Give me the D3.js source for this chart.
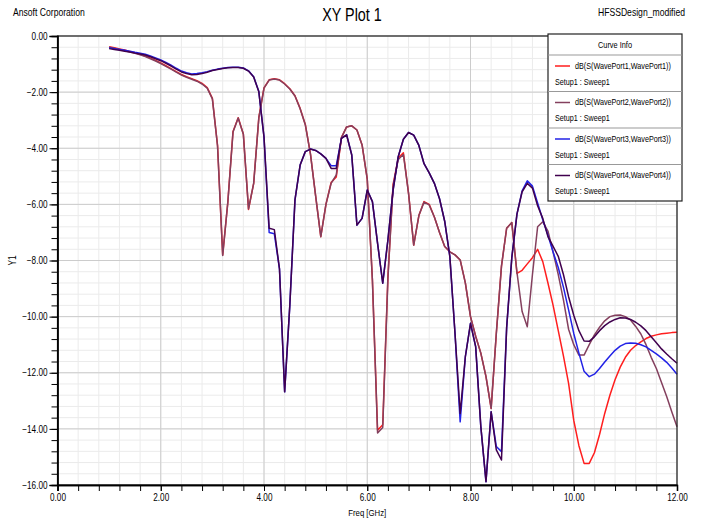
<!DOCTYPE html>
<html>
<head>
<meta charset="utf-8">
<script src="https://cdn.jsdelivr.net/npm/d3@7"></script>
<style>
  body { margin: 0; background: #fff; }
  text { font-family: "Liberation Sans", Arial, sans-serif; fill: #000; }
</style>
</head>
<body>
<svg id="chart"></svg>
<script>
// sweep frequencies, GHz
var freq = [
  1.0, 1.1, 1.2, 1.3, 1.4, 1.5, 1.6, 1.7, 1.8, 1.9,
  2.0, 2.1, 2.2, 2.3, 2.4, 2.5, 2.6, 2.7, 2.8, 2.9,
  3.0, 3.1, 3.2, 3.3, 3.4, 3.5, 3.6, 3.7, 3.8, 3.9,
  4.0, 4.1, 4.2, 4.3, 4.4, 4.5, 4.6, 4.7, 4.8, 4.9,
  5.0, 5.1, 5.2, 5.3, 5.4, 5.5, 5.6, 5.7, 5.8, 5.9,
  6.0, 6.1, 6.2, 6.3, 6.4, 6.5, 6.6, 6.7, 6.8, 6.9,
  7.0, 7.1, 7.2, 7.3, 7.4, 7.5, 7.6, 7.7, 7.8, 7.9,
  8.0, 8.1, 8.2, 8.3, 8.4, 8.5, 8.6, 8.7, 8.8, 8.9,
  9.0, 9.1, 9.2, 9.3, 9.4, 9.5, 9.6, 9.7, 9.8, 9.9,
  10.0, 10.1, 10.2, 10.3, 10.4, 10.5, 10.6, 10.7, 10.8, 10.9,
  11.0, 11.1, 11.2, 11.3, 11.4, 11.5, 11.6, 11.7, 11.8, 11.9,
  12.0
];

// dB(S(WavePort1,WavePort1))
var s11 = [
  -0.38, -0.42, -0.46, -0.50, -0.55, -0.60, -0.65, -0.71, -0.79, -0.87,
  -0.96, -1.06, -1.16, -1.27, -1.37, -1.45, -1.52, -1.59, -1.69, -1.84,
  -2.22, -3.90, -7.80, -5.90, -3.40, -2.91, -3.49, -6.18, -5.25, -2.90,
  -1.85, -1.56, -1.52, -1.56, -1.70, -1.88, -2.13, -2.58, -3.15, -4.20,
  -5.70, -7.15, -6.00, -5.22, -5.02, -3.62, -3.24, -3.20, -3.35, -3.88,
  -5.10, -8.70, -14.05, -13.85, -8.60, -5.30, -4.35, -4.16, -5.61, -7.45,
  -6.40, -5.90, -6.00, -6.45, -7.00, -7.50, -7.69, -7.80, -7.98, -8.80,
  -10.00, -10.70, -11.30, -12.14, -13.27, -10.60, -8.20, -6.85, -6.65, -8.46,
  -8.35, -8.12, -7.90, -7.60, -8.04, -8.80, -9.60, -10.50, -11.40, -12.38,
  -13.70, -14.60, -15.23, -15.23, -14.85, -14.20, -13.45, -12.80, -12.25, -11.80,
  -11.45, -11.20, -11.03, -10.90, -10.78, -10.70, -10.65, -10.61, -10.59, -10.57,
  -10.56
];

// dB(S(WavePort2,WavePort2))
var s22 = [
  -0.40, -0.44, -0.48, -0.52, -0.57, -0.62, -0.67, -0.73, -0.81, -0.89,
  -0.98, -1.08, -1.18, -1.29, -1.39, -1.47, -1.54, -1.61, -1.71, -1.86,
  -2.24, -3.92, -7.82, -5.92, -3.42, -2.92, -3.50, -6.16, -5.25, -2.92,
  -1.86, -1.57, -1.53, -1.57, -1.71, -1.89, -2.14, -2.59, -3.16, -4.21,
  -5.70, -7.15, -6.00, -5.25, -4.95, -3.62, -3.24, -3.20, -3.35, -3.88,
  -5.10, -8.70, -14.15, -13.95, -8.65, -5.35, -4.40, -4.22, -5.61, -7.45,
  -6.40, -5.92, -6.02, -6.45, -7.00, -7.50, -7.69, -7.80, -7.98, -8.80,
  -10.00, -10.70, -11.30, -12.14, -13.27, -10.60, -8.20, -6.85, -6.65, -8.42,
  -9.82, -10.36, -8.50, -6.80, -6.62, -6.95, -7.70, -8.50, -9.40, -10.45,
  -11.00, -11.37, -11.37, -11.00, -10.65, -10.38, -10.15, -10.00, -9.95, -9.94,
  -10.00, -10.12, -10.35, -10.62, -11.00, -11.45, -11.85, -12.35, -12.85, -13.40,
  -13.92
];

// dB(S(WavePort3,WavePort3))
var s33 = [
  -0.42, -0.45, -0.48, -0.51, -0.54, -0.58, -0.61, -0.65, -0.71, -0.78,
  -0.85, -0.94, -1.04, -1.15, -1.25, -1.31, -1.35, -1.34, -1.31, -1.27,
  -1.22, -1.18, -1.15, -1.12, -1.11, -1.11, -1.14, -1.24, -1.45, -1.98,
  -3.60, -7.00, -7.05, -8.30, -12.68, -9.60, -5.84, -4.60, -4.12, -4.03,
  -4.08, -4.20, -4.36, -4.62, -4.62, -3.65, -3.52, -4.24, -6.74, -6.50,
  -5.49, -5.90, -7.39, -8.81, -7.27, -5.50, -4.30, -3.68, -3.44, -3.53,
  -3.90, -4.55, -4.88, -5.25, -5.80, -6.60, -7.86, -10.60, -13.75, -11.43,
  -10.24, -11.07, -13.92, -15.88, -13.39, -14.63, -14.81, -10.40, -7.90, -6.35,
  -5.52, -5.16, -5.35, -5.95, -6.55, -7.10, -7.70, -8.25, -8.95, -9.76,
  -10.60, -11.30, -11.95, -12.14, -12.05, -11.85, -11.62, -11.40, -11.20, -11.05,
  -10.96, -10.94, -10.95, -11.00, -11.08, -11.20, -11.33, -11.47, -11.63, -11.83,
  -12.05
];

// dB(S(WavePort4,WavePort4))
var s44 = [
  -0.45, -0.48, -0.51, -0.54, -0.57, -0.61, -0.64, -0.68, -0.74, -0.81,
  -0.88, -0.97, -1.07, -1.18, -1.28, -1.34, -1.38, -1.37, -1.34, -1.29,
  -1.23, -1.19, -1.16, -1.13, -1.12, -1.12, -1.15, -1.25, -1.46, -1.99,
  -3.60, -6.85, -6.90, -8.30, -12.68, -9.60, -5.84, -4.60, -4.12, -4.03,
  -4.08, -4.20, -4.36, -4.72, -4.72, -3.65, -3.52, -4.24, -6.74, -6.50,
  -5.49, -5.90, -7.39, -8.81, -7.27, -5.50, -4.30, -3.68, -3.44, -3.53,
  -3.90, -4.55, -4.88, -5.25, -5.80, -6.60, -7.86, -10.60, -13.45, -11.43,
  -10.24, -11.07, -13.92, -15.88, -13.39, -14.75, -15.11, -10.40, -7.90, -6.35,
  -5.55, -5.25, -5.42, -6.05, -6.50, -7.15, -7.50, -7.85, -8.50, -9.29,
  -9.95, -10.50, -10.87, -10.88, -10.72, -10.50, -10.32, -10.19, -10.10, -10.04,
  -10.05, -10.10, -10.20, -10.33, -10.50, -10.72, -10.93, -11.15, -11.33, -11.50,
  -11.66
];

var curveNames = [
  "dB(S(WavePort1,WavePort1))",
  "dB(S(WavePort2,WavePort2))",
  "dB(S(WavePort3,WavePort3))",
  "dB(S(WavePort4,WavePort4))"
];
var curveColors = ["#ff1e1e", "#84405e", "#2222e6", "#40004e"];
var series = [s11, s22, s33, s44];

// Canvas dimensions
var W = 703, H = 523;
var plot = {left: 57.5, right: 677, top: 36, bottom: 485};

// Arial Narrow look: Liberation Sans squeezed to 82% width
var NARROW = 0.82;
function narrow(sel) {
  sel.each(function() {
    var t = d3.select(this);
    var xx = +t.attr("x") || 0;
    t.attr("x", xx / NARROW)
     .attr("transform", (t.attr("transform") || "") + " scale(" + NARROW + ",1)");
  });
}

var svg = d3.select("#chart")
    .attr("width", W)
    .attr("height", H);

svg.append("rect")
    .attr("width", W).attr("height", H)
    .attr("fill", "#fff");

// Set the ranges
var x = d3.scaleLinear().domain([0, 12]).range([plot.left, plot.right]);
var y = d3.scaleLinear().domain([0, -16]).range([plot.top, plot.bottom]);

var xMinor = d3.range(0, 12.001, 0.4),
    xMajor = d3.range(0, 12.001, 2),
    yMinor = d3.range(0, -16.001, -0.4),
    yMajor = d3.range(0, -16.001, -2);

// grid
var grid = svg.append("g");
grid.selectAll(".vminor").data(xMinor).enter().append("line")
    .attr("x1", function(d) { return x(d); }).attr("x2", function(d) { return x(d); })
    .attr("y1", plot.top).attr("y2", plot.bottom)
    .attr("stroke", "#ebebeb");
grid.selectAll(".hminor").data(yMinor).enter().append("line")
    .attr("y1", function(d) { return y(d); }).attr("y2", function(d) { return y(d); })
    .attr("x1", plot.left).attr("x2", plot.right)
    .attr("stroke", "#ebebeb");
grid.selectAll(".vmajor").data(xMajor).enter().append("line")
    .attr("x1", function(d) { return x(d); }).attr("x2", function(d) { return x(d); })
    .attr("y1", plot.top).attr("y2", plot.bottom)
    .attr("stroke", "#cccccc");
grid.selectAll(".hmajor").data(yMajor).enter().append("line")
    .attr("y1", function(d) { return y(d); }).attr("y2", function(d) { return y(d); })
    .attr("x1", plot.left).attr("x2", plot.right)
    .attr("stroke", "#cccccc");

// curves
var line = d3.line()
    .x(function(d, i) { return x(freq[i]); })
    .y(function(d) { return y(d); });

svg.append("g").selectAll("path")
    .data(series)
  .enter().append("path")
    .attr("d", line)
    .attr("fill", "none")
    .attr("stroke", function(d, i) { return curveColors[i]; })
    .attr("stroke-width", 1.5)
    .attr("stroke-linejoin", "round");

// frame
svg.append("rect")
    .attr("x", plot.left).attr("y", plot.top)
    .attr("width", plot.right - plot.left).attr("height", plot.bottom - plot.top)
    .attr("fill", "none")
    .attr("stroke", "#222")
    .attr("stroke-width", 1.2);

var fmt = d3.format(".2f");

// axes
svg.append("g")
    .attr("transform", "translate(" + plot.left + ",0)")
    .call(d3.axisLeft(y).tickValues(yMinor).tickSize(6).tickFormat(""));
svg.append("g")
    .attr("transform", "translate(" + plot.left + ",0)")
    .call(d3.axisLeft(y).tickValues(yMajor).tickSize(8).tickPadding(2).tickFormat(fmt));
svg.append("g")
    .attr("transform", "translate(0," + plot.bottom + ")")
    .call(d3.axisBottom(x).tickValues(xMinor).tickSize(6).tickFormat(""));
svg.append("g")
    .attr("transform", "translate(0," + plot.bottom + ")")
    .call(d3.axisBottom(x).tickValues(xMajor).tickSize(6).tickPadding(3).tickFormat(fmt));

svg.selectAll(".domain").attr("stroke", "#000").attr("stroke-width", 1.3);
svg.selectAll(".tick line").attr("stroke", "#000");
svg.selectAll(".tick text")
    .attr("font-family", "Liberation Sans, Arial, sans-serif")
    .attr("font-size", 10)
    .attr("fill", "#000")
    .call(narrow);

// axis titles
svg.append("text")
    .attr("x", x(6)).attr("y", 516)
    .attr("text-anchor", "middle")
    .style("font-size", "9.5px")
    .text("Freq [GHz]")
    .call(narrow);

svg.append("text")
    .attr("transform", "translate(16," + y(-8) + ") rotate(-90)")
    .attr("text-anchor", "middle")
    .style("font-size", "10px")
    .text("Y1")
    .call(narrow);

// header
svg.append("text")
    .attr("x", 13).attr("y", 16)
    .style("font-size", "10.5px")
    .text("Ansoft Corporation")
    .call(narrow);
svg.append("text")
    .attr("x", 352).attr("y", 21)
    .attr("text-anchor", "middle")
    .style("font-size", "17.5px")
    .text("XY Plot 1")
    .call(narrow);
svg.append("text")
    .attr("x", 685).attr("y", 16)
    .attr("text-anchor", "end")
    .style("font-size", "10.5px")
    .text("HFSSDesign_modified")
    .call(narrow);

// legend
var leg = {x: 548, y: 34, w: 134, head: 21, row: 36.5};
var legend = svg.append("g").attr("transform", "translate(" + leg.x + "," + leg.y + ")");
legend.append("rect")
    .attr("width", leg.w).attr("height", leg.head + leg.row * curveNames.length)
    .attr("fill", "#fff")
    .attr("stroke", "#222")
    .attr("stroke-width", 1.2);
legend.append("text")
    .attr("x", leg.w / 2).attr("y", 14.5)
    .attr("text-anchor", "middle")
    .style("font-size", "9px")
    .text("Curve Info")
    .call(narrow);

var entry = legend.selectAll(".entry")
    .data(curveNames)
  .enter().append("g")
    .attr("transform", function(d, i) { return "translate(0," + (leg.head + i * leg.row) + ")"; });
entry.append("line")
    .attr("x1", 0).attr("x2", leg.w)
    .attr("stroke", "#999");
entry.append("line")
    .attr("x1", 7).attr("x2", 22)
    .attr("y1", 11).attr("y2", 11)
    .attr("stroke", function(d, i) { return curveColors[i]; })
    .attr("stroke-width", 1.5);
entry.append("text")
    .attr("x", 27).attr("y", 14)
    .style("font-size", "8.8px")
    .text(function(d) { return d; })
    .call(narrow);
entry.append("text")
    .attr("x", 7).attr("y", 30)
    .style("font-size", "8.8px")
    .text("Setup1 : Sweep1")
    .call(narrow);
</script>
</body>
</html>
